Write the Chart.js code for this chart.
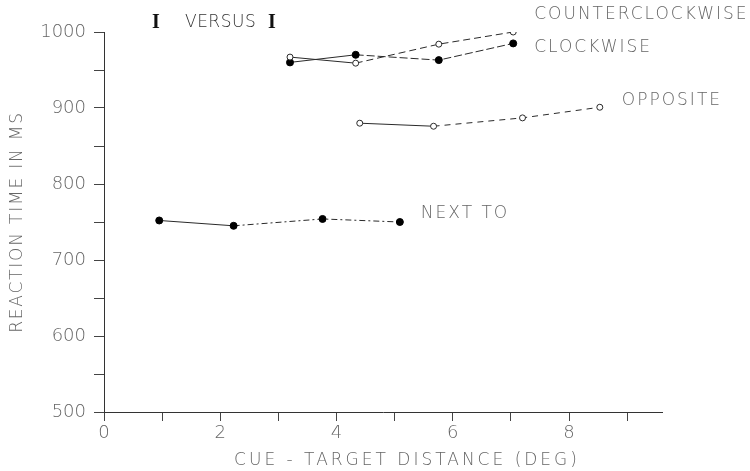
<!DOCTYPE html>
<html>
<head>
<meta charset="utf-8">
<script src="https://cdn.jsdelivr.net/npm/chart.js@4/dist/chart.umd.min.js"></script>
<style>
  html, body { margin: 0; padding: 0; background: #fff; }
  #wrap { width: 750px; height: 471px; }
</style>
</head>
<body>
<div id="wrap"><canvas id="c" width="750" height="471"></canvas></div>
<script>
// ---- data ----
const seriesNames = ['COUNTERCLOCKWISE', 'CLOCKWISE', 'OPPOSITE', 'NEXT TO'];
const ccwX = [3.2, 4.33, 5.76, 7.04];
const ccwY = [967, 959, 984, 1000];
const cwX  = [3.2, 4.33, 5.76, 7.04];
const cwY  = [960, 970, 963, 985];
const oppX = [4.4, 5.67, 7.2, 8.53];
const oppY = [880, 876, 887, 901];
const nextX = [0.95, 2.23, 3.76, 5.09];
const nextY = [752, 745, 754, 750];
const yTickValues = [500, 600, 700, 800, 900, 1000];
const xTickValues = [0, 2, 4, 6, 8];
const chartTitle = 'I VERSUS I';
const yAxisTitle = 'REACTION TIME IN MS';
const xAxisTitle = 'CUE - TARGET DISTANCE (DEG)';

const toPts = (xs, ys) => xs.map((x, i) => ({ x: x, y: ys[i] }));

const INK = '#2a2a2a';
const GRAY = '#666';
const FONT = '"DejaVu Sans", "Liberation Sans", sans-serif';

const labelOffsets = {
  'COUNTERCLOCKWISE': [21, -17],
  'CLOCKWISE': [21, 4],
  'OPPOSITE': [22, -7],
  'NEXT TO': [21, -8]
};

const annot = {
  id: 'annot',
  afterDraw(chart) {
    const ctx = chart.ctx;
    const xs = chart.scales.x, ys = chart.scales.y;
    const area = chart.chartArea;
    ctx.save();
    // series labels at end of each line
    ctx.font = '300 17px ' + FONT;
    ctx.letterSpacing = '2px';
    ctx.fillStyle = GRAY;
    ctx.textBaseline = 'middle';
    ctx.textAlign = 'left';
    chart.data.datasets.forEach((ds) => {
      const last = ds.data[ds.data.length - 1];
      const off = labelOffsets[ds.label] || [20, 0];
      const px = xs.getPixelForValue(last.x) + off[0];
      const py = ys.getPixelForValue(last.y) + off[1];
      ctx.fillText(ds.label, px, py);
    });
    ctx.letterSpacing = '0px';
    // chart title: I VERSUS I
    const parts = chartTitle.split(' ');
    const ty = 23;
    const serif = 'bold 20px "Liberation Serif", "DejaVu Serif", serif';
    const sans = '300 17px ' + FONT;
    ctx.font = serif; ctx.fillStyle = '#111';
    ctx.fillText(parts[0], area.left + 48, ty);
    ctx.font = sans; ctx.fillStyle = '#333'; ctx.letterSpacing = '0.5px';
    ctx.fillText(parts[1], area.left + 81, ty);
    ctx.letterSpacing = '0px';
    ctx.font = serif; ctx.fillStyle = '#111';
    ctx.fillText(parts[2], area.left + 164, ty);
    // x-axis title
    ctx.font = '300 17px ' + FONT;
    ctx.letterSpacing = '3px';
    ctx.fillStyle = GRAY;
    ctx.textAlign = 'center';
    ctx.fillText(xAxisTitle, 407, 461);
    // y-axis title
    ctx.translate(18, (area.top + area.bottom) / 2);
    ctx.rotate(-Math.PI / 2);
    ctx.letterSpacing = '1.8px';
    ctx.fillText(yAxisTitle, 0, 0);
    ctx.restore();
  }
};

const dashAfterFirst = (d) => (ctx) => ctx.p0DataIndex >= 1 ? d : [];

new Chart(document.getElementById('c'), {
  type: 'scatter',
  data: {
    datasets: [
      {
        label: seriesNames[0], data: toPts(ccwX, ccwY), showLine: true,
        borderColor: INK, borderWidth: 1, pointRadius: 3,
        pointBackgroundColor: '#fff', pointBorderColor: INK, pointBorderWidth: 1,
        segment: { borderDash: dashAfterFirst([7, 4]) }
      },
      {
        label: seriesNames[1], data: toPts(cwX, cwY), showLine: true,
        borderColor: INK, borderWidth: 1, pointRadius: 3.5,
        pointBackgroundColor: '#000', pointBorderColor: '#000',
        segment: { borderDash: dashAfterFirst([8, 3]) }
      },
      {
        label: seriesNames[2], data: toPts(oppX, oppY), showLine: true,
        borderColor: INK, borderWidth: 1, pointRadius: 3,
        pointBackgroundColor: '#fff', pointBorderColor: INK, pointBorderWidth: 1,
        segment: { borderDash: dashAfterFirst([6, 5]) }
      },
      {
        label: seriesNames[3], data: toPts(nextX, nextY), showLine: true,
        borderColor: INK, borderWidth: 1, pointRadius: 3.5,
        pointBackgroundColor: '#000', pointBorderColor: '#000',
        segment: { borderDash: dashAfterFirst([6, 3, 2, 3]) }
      }
    ]
  },
  options: {
    responsive: false,
    animation: false,
    layout: { padding: { top: 32, right: 88, left: 0, bottom: 0 } },
    plugins: { legend: { display: false }, tooltip: { enabled: false }, title: { display: false } },
    scales: {
      x: {
        type: 'linear', min: 0, max: 9.6,
        afterFit: (s) => { s.height = 59; },
        border: { display: true, color: '#333', width: 1 },
        grid: { drawOnChartArea: false, drawTicks: true, tickLength: 9, color: '#444' },
        ticks: {
          stepSize: 1, includeBounds: false, color: GRAY, padding: 2,
          font: { family: FONT, size: 18, weight: '300' },
          maxRotation: 0, autoSkip: false,
          callback: (v) => xTickValues.includes(v) ? String(v) : ''
        }
      },
      y: {
        type: 'linear', min: 500, max: 1000,
        afterFit: (s) => { s.width = 104; },
        border: { display: true, color: '#333', width: 1 },
        grid: { drawOnChartArea: false, drawTicks: true, tickLength: 10, color: '#444' },
        ticks: {
          stepSize: 50, color: GRAY, padding: 8, autoSkip: false,
          font: { family: FONT, size: 18, weight: '300' },
          callback: (v) => yTickValues.includes(v) ? String(v) : ''
        }
      }
    }
  },
  plugins: [annot]
});
</script>
</body>
</html>
